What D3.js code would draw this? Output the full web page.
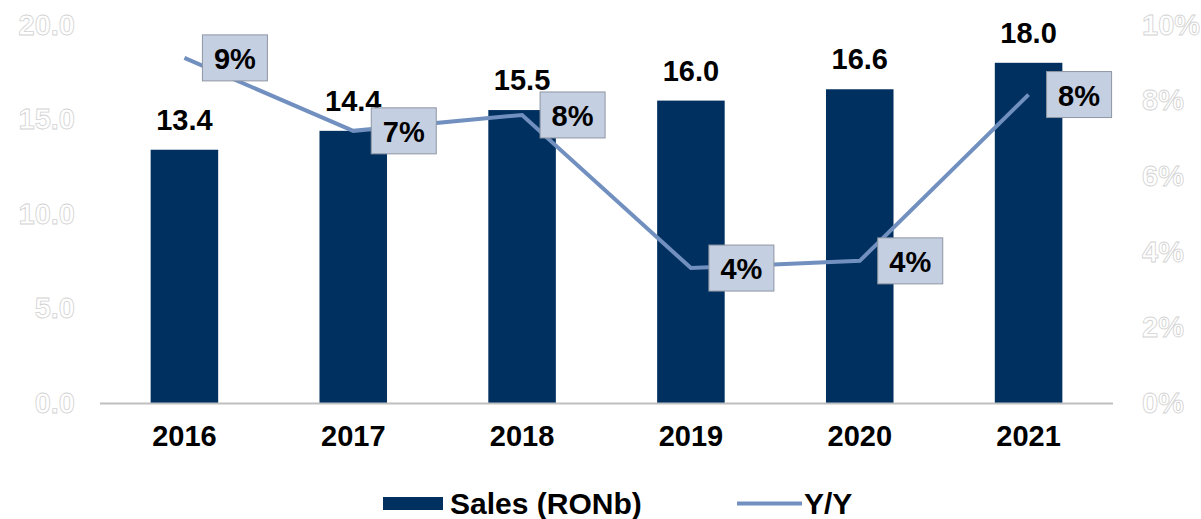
<!DOCTYPE html>
<html><head><meta charset="utf-8">
<script src="https://cdn.jsdelivr.net/npm/d3@7"></script>
<style>
html,body{margin:0;padding:0;background:#fff;}
svg{display:block;font-family:"Liberation Sans",Arial,sans-serif;font-weight:bold;}
</style></head>
<body>
<svg id="chart" width="1201" height="519"></svg>
<script>
const years = ["2016","2017","2018","2019","2020","2021"];
const sales = [13.4, 14.4, 15.5, 16.0, 16.6, 18.0];
const growth = [0.0913, 0.072, 0.0762, 0.0357, 0.0376, 0.0816];
const leftTicks = [0, 5, 10, 15, 20];
const rightTicks = [0, 0.02, 0.04, 0.06, 0.08, 0.10];
const seriesNames = ["Sales (RONb)", "Y/Y"];

const barColor = "#00305f", lineColor = "#7190bf";
const svg = d3.select("#chart");
const x = d3.scaleBand().domain(years).range([100, 1113]).paddingInner(0.6).paddingOuter(0.3);
const y = d3.scaleLinear().domain([0, 20]).range([403, 25]);
const y2 = d3.scaleLinear().domain([0, 0.10]).range([403, 25]);
const fs = 29;

// left axis labels (ghost style)
const la = svg.append("g").attr("transform","translate(75,0)")
  .call(d3.axisLeft(y).tickValues(leftTicks).tickFormat(d3.format(".1f")).tickSize(0).tickPadding(0));
la.select(".domain").remove();
la.selectAll("text").attr("font-size", fs).attr("font-family","Liberation Sans, Arial, sans-serif")
  .attr("font-weight","bold").attr("fill","#fff").attr("stroke","#d2d2d2").attr("stroke-width",0.8);

const ra = svg.append("g").attr("transform","translate(1142,0)")
  .call(d3.axisRight(y2).tickValues(rightTicks).tickFormat(d3.format(".0%")).tickSize(0).tickPadding(0));
ra.select(".domain").remove();
ra.selectAll("text").attr("font-size", fs).attr("font-family","Liberation Sans, Arial, sans-serif")
  .attr("font-weight","bold").attr("fill","#fff").attr("stroke","#d2d2d2").attr("stroke-width",0.8);

// bars
svg.append("g").selectAll("rect").data(sales).join("rect")
  .attr("x",(d,i)=>x(years[i])).attr("width",x.bandwidth())
  .attr("y",d=>y(d)).attr("height",d=>y(0)-y(d)).attr("fill",barColor);

// baseline
svg.append("line").attr("x1",100).attr("x2",1113).attr("y1",y(0)+0.5).attr("y2",y(0)+0.5)
  .attr("stroke","#bfbfbf").attr("stroke-width",2);

// x axis labels
const xa = svg.append("g").attr("transform",`translate(0,${y(0)})`)
  .call(d3.axisBottom(x).tickSize(0).tickPadding(22));
xa.select(".domain").remove();
xa.selectAll("text").attr("font-size", fs).attr("font-family","Liberation Sans, Arial, sans-serif")
  .attr("font-weight","bold").attr("fill","#000");

// bar value labels
svg.append("g").selectAll("text").data(sales).join("text")
  .attr("x",(d,i)=>x(years[i])+x.bandwidth()/2).attr("y",d=>y(d)-20)
  .attr("text-anchor","middle").attr("font-size",fs).attr("fill","#000")
  .text(d=>d3.format(".1f")(d));

// line
const cx = (i)=>x(years[i])+x.bandwidth()/2;
svg.append("path").datum(growth)
  .attr("d", d3.line().x((d,i)=>cx(i)).y(d=>y2(d)))
  .attr("fill","none").attr("stroke",lineColor).attr("stroke-width",4);

// line labels
const lg = svg.append("g").selectAll("g").data(growth).join("g")
  .attr("transform",(d,i)=>`translate(${cx(i)+18},${y2(d)})`);
lg.append("rect").attr("x",0).attr("y",-23).attr("width",65).attr("height",46)
  .attr("fill","#c4cfe1").attr("stroke","#8f96a3").attr("stroke-width",1);
lg.append("text").attr("x",32.5).attr("y",11).attr("text-anchor","middle")
  .attr("font-size",fs).attr("fill","#000").text(d=>d3.format(".0%")(d));

// legend
const leg = svg.append("g");
leg.append("rect").attr("x",383).attr("y",497).attr("width",60).attr("height",13).attr("fill",barColor);
leg.append("text").attr("x",450).attr("y",514).attr("font-size",30).attr("fill","#000").text(seriesNames[0]);
leg.append("line").attr("x1",737).attr("x2",802).attr("y1",503.5).attr("y2",503.5)
  .attr("stroke",lineColor).attr("stroke-width",4);
leg.append("text").attr("x",804).attr("y",514).attr("font-size",30).attr("fill","#000").text(seriesNames[1]);
</script>
</body></html>
